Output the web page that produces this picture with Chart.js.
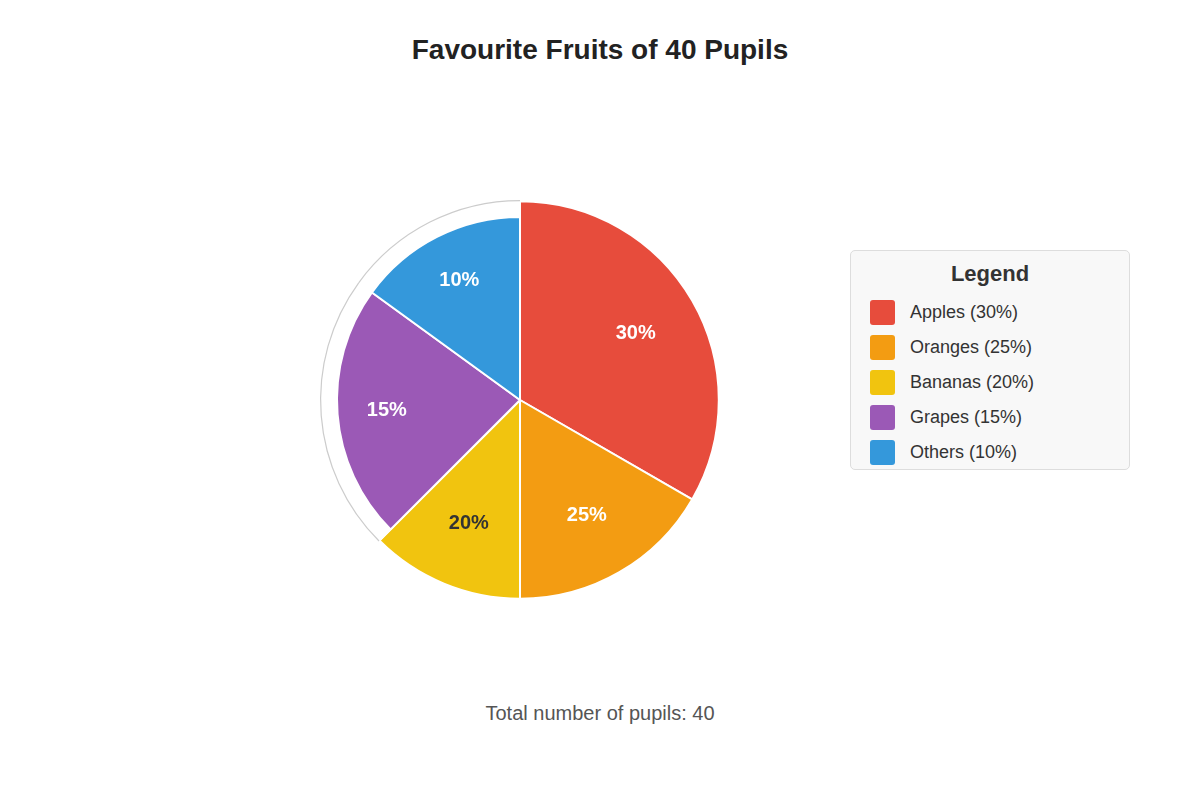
<!DOCTYPE html>
<html>
<head>
<meta charset="utf-8">
<title>Favourite Fruits of 40 Pupils</title>
<script src="https://cdn.jsdelivr.net/npm/chart.js@4.4.1/dist/chart.umd.min.js"></script>
<style>
  html, body { margin: 0; padding: 0; background: #fff; }
  body { width: 1200px; height: 800px; position: relative; font-family: "Liberation Sans", Arial, sans-serif; }
  #title { position: absolute; left: 0; top: 30px; width: 1200px; text-align: center; font-size: 28px; font-weight: bold; color: #222; line-height: 40px; }
  .pie { position: absolute; left: 300px; top: 180px; width: 440px; height: 440px; }
  #legend { position: absolute; left: 850px; top: 250px; width: 280px; height: 220px; box-sizing: border-box;
            background: #f8f8f8; border: 1px solid #dddddd; border-radius: 5px; }
  #legend h3 { margin: 0; position: absolute; top: 8px; width: 100%; text-align: center; font-size: 22px; line-height: 30px; color: #333; }
  .item { position: absolute; left: 19px; height: 25px; }
  .item span.sw { position: absolute; left: 0; top: 0; width: 25px; height: 25px; border-radius: 3px; }
  .item span.tx { position: absolute; left: 40px; top: 0; line-height: 25px; font-size: 18px; color: #333; white-space: nowrap; }
  #footer { position: absolute; left: 0; top: 700px; width: 1200px; text-align: center; font-size: 20px; color: #555; line-height: 26px; }
</style>
</head>
<body>
<div id="title">Favourite Fruits of 40 Pupils</div>
<div class="pie"><canvas id="pieBack"></canvas></div>
<div class="pie"><canvas id="pieFront"></canvas></div>
<div id="legend"><h3>Legend</h3></div>
<div id="footer">Total number of pupils: 40</div>

<script>
// data
const fruits = ['Apples', 'Oranges', 'Bananas', 'Grapes', 'Others'];
const percents = [30, 25, 20, 15, 10];          // as labelled
const sliceDegrees = [120, 60, 45, 81, 54];      // as drawn
const totalPupils = 40;

const fruitColors = ['#e74c3c', '#f39c12', '#f1c40f', '#9b59b6', '#3498db'];
const labelColors = ['#fff', '#fff', '#333', '#fff', '#fff'];
// these two slices sit inside the outer grey circle
const shortSlices = ['Grapes', 'Others'];

const isShort = name => shortSlices.includes(name);

const baseOptions = {
    responsive: true,
    maintainAspectRatio: false,
    animation: false,
    events: [],
    layout: { padding: 0 },
    plugins: { legend: { display: false }, tooltip: { enabled: false } }
};

// back: grey outline circle + the full-size slices
new Chart(document.getElementById('pieBack'), {
    type: 'pie',
    data: {
        labels: fruits,
        datasets: [{
            data: sliceDegrees,
            backgroundColor: fruits.map(f => isShort(f) ? '#cccccc' : 'rgba(0,0,0,0)'),
            borderWidth: 0,
            weight: 1.2
        }, {
            data: sliceDegrees,
            backgroundColor: fruits.map((f, i) => isShort(f) ? 'rgba(0,0,0,0)' : fruitColors[i]),
            borderColor: '#ffffff',
            borderWidth: 2,
            weight: 198.8
        }]
    },
    options: Object.assign({}, baseOptions, { radius: 200 })
});

// percentage labels drawn on top of the slices
const sliceLabels = {
    id: 'sliceLabels',
    afterDatasetsDraw(chart) {
        const ctx = chart.ctx;
        const arcs = chart.getDatasetMeta(0).data;
        ctx.save();
        ctx.font = 'bold 20px "Liberation Sans", Arial, sans-serif';
        ctx.textAlign = 'center';
        ctx.textBaseline = 'middle';
        arcs.forEach((arc, i) => {
            const mid = (arc.startAngle + arc.endAngle) / 2;
            const r = arc.outerRadius * 0.73;
            ctx.fillStyle = labelColors[i];
            ctx.fillText(percents[i] + '%', arc.x + Math.cos(mid) * r, arc.y + Math.sin(mid) * r);
        });
        ctx.restore();
    }
};

// front: the two smaller slices
new Chart(document.getElementById('pieFront'), {
    type: 'pie',
    data: {
        labels: fruits,
        datasets: [{
            data: sliceDegrees,
            backgroundColor: fruits.map((f, i) => isShort(f) ? fruitColors[i] : 'rgba(0,0,0,0)'),
            borderColor: fruits.map(f => isShort(f) ? '#ffffff' : 'rgba(0,0,0,0)'),
            borderWidth: 2
        }]
    },
    options: Object.assign({}, baseOptions, { radius: 183 }),
    plugins: [sliceLabels]
});

// html legend
const legend = document.getElementById('legend');
fruits.forEach((f, i) => {
    const row = document.createElement('div');
    row.className = 'item';
    row.style.top = (49 + i * 35) + 'px';
    row.innerHTML = '<span class="sw" style="background:' + fruitColors[i] + '"></span>' +
        '<span class="tx">' + f + ' (' + percents[i] + '%)</span>';
    legend.appendChild(row);
});
document.getElementById('footer').textContent = 'Total number of pupils: ' + totalPupils;
</script>
</body>
</html>
